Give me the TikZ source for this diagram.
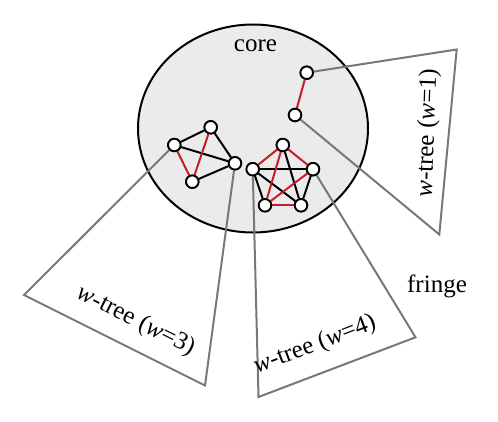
\documentclass[tikz,border=0pt]{standalone}
\usepackage{fontspec}
\setmainfont{Liberation Serif}
\usetikzlibrary{shapes.geometric}
\definecolor{coregray}{RGB}{235,235,235}
\definecolor{treegray}{RGB}{120,120,120}
\definecolor{edgered}{RGB}{196,30,42}
\tikzset{
  vert/.style={circle, draw=black, fill=white, line width=1.8pt, minimum size=12.5pt, inner sep=0pt},
  bedge/.style={draw=black, line width=2pt},
  redge/.style={draw=edgered, line width=2pt},
  tri/.style={draw=treegray, line width=2pt, line join=miter},
  lbl/.style={font=\fontsize{25}{29}\selectfont, inner sep=0pt},
}
\begin{document}
\begin{tikzpicture}[x=1pt,y=-1pt]
\useasboundingbox (0,0) rectangle (498,422);
\node[ellipse, draw=black, fill=coregray, line width=2pt, minimum width=230pt, minimum height=208pt] (core) at (253,128.5) {};
\node[lbl] (corelbl) at (255.5,46) {core};
% vertices
\node[vert] (a1) at (306.7,72.7) {};
\node[vert] (a2) at (295,115) {};
\node[vert] (b1) at (174.3,145) {};
\node[vert] (b2) at (210.7,127.3) {};
\node[vert] (b3) at (235,163.3) {};
\node[vert] (b4) at (192.3,181.7) {};
\node[vert] (c1) at (282.8,145) {};
\node[vert] (c2) at (252.7,169.2) {};
\node[vert] (c3) at (313,169.2) {};
\node[vert] (c4) at (265,205.3) {};
\node[vert] (c5) at (301,205.3) {};
% tree corners
\coordinate (t1a) at (456.7,49.5);
\coordinate (t1b) at (439.3,234.5);
\coordinate (t3a) at (24,295);
\coordinate (t3b) at (205,385.5);
\coordinate (t4a) at (258.5,397);
\coordinate (t4b) at (415.5,337.3);
% trees
\draw[tri] (a1.center) -- (t1a) -- (t1b) -- (a2.center);
\draw[tri] (b1.center) -- (t3a) -- (t3b) -- (b3.center);
\draw[tri] (c2.center) -- (t4a) -- (t4b) -- (c3.center);
% edges
\draw[redge] (a1) -- (a2);
\draw[bedge] (b1) -- (b2);
\draw[bedge] (b1) -- (b3);
\draw[bedge] (b2) -- (b3);
\draw[bedge] (b3) -- (b4);
\draw[redge] (b1) -- (b4);
\draw[redge] (b2) -- (b4);
\draw[bedge] (c1) -- (c5);
\draw[bedge] (c2) -- (c3);
\draw[bedge] (c2) -- (c4);
\draw[bedge] (c2) -- (c5);
\draw[bedge] (c3) -- (c5);
\draw[redge] (c1) -- (c2);
\draw[redge] (c1) -- (c3);
\draw[redge] (c1) -- (c4);
\draw[redge] (c3) -- (c4);
\draw[redge] (c4) -- (c5);
% redraw vertices on top
\foreach \v in {a1,a2,b1,b2,b3,b4,c1,c2,c3,c4,c5}{
  \node[vert] at (\v.center) {};
}
% labels
\node[lbl, rotate=88] (l1) at (428,133) {\textit{w}-tree (\textit{w}=1)};
\node[lbl, rotate=-26.5] (l3) at (136,321) {\textit{w}-tree (\textit{w}=3)};
\node[lbl, rotate=20.8] (l4) at (315,345) {\textit{w}-tree (\textit{w}=4)};
\node[lbl] (fringe) at (437,286) {fringe};
\end{tikzpicture}
\end{document}
